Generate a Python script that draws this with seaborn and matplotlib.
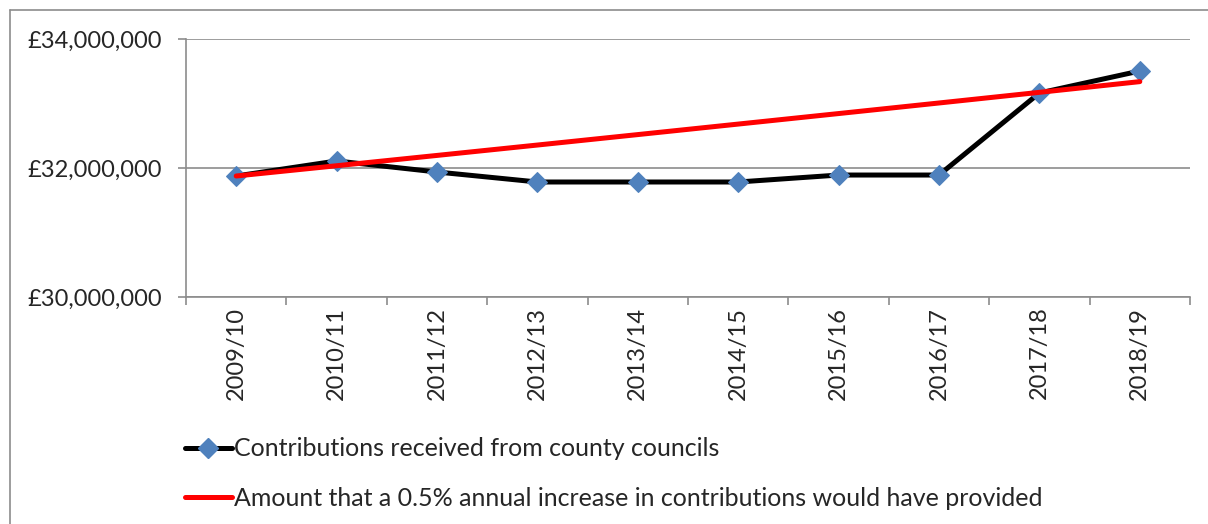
import numpy as np
import pandas as pd
import matplotlib
matplotlib.use("Agg")
import matplotlib.pyplot as plt
import matplotlib.ticker as mticker
from matplotlib.lines import Line2D
import seaborn as sns

# ============================================================
# DATA
# ============================================================

years = ["2009/10", "2010/11", "2011/12", "2012/13", "2013/14",
         "2014/15", "2015/16", "2016/17", "2017/18", "2018/19"]

received = [31876000, 32109000, 31938000, 31783000, 31783000,
            31783000, 31891000, 31891000, 33163000, 33504000]

half_pct = [31876000, 32035000, 32195000, 32356000, 32518000,
            32681000, 32844000, 33008000, 33173000, 33339000]

label_received = "Contributions received from county councils"
label_half = "Amount that a 0.5% annual increase in contributions would have provided"

# ============================================================
# STYLE
# ============================================================

sns.set_style("white")
plt.rcParams["font.family"] = ["Lato", "DejaVu Sans"]

GRID = "#8c8c8c"
BLUE = "#4f81bd"
FS = 17

df = pd.DataFrame({"year": years, "received": received, "half": half_pct})
df["pos"] = np.arange(len(df))

fig = plt.figure(figsize=(12.08, 5.24), dpi=100)
ax = fig.add_axes([186 / 1208, 1 - 297 / 524, (1190 - 186) / 1208, (297 - 39) / 524])

sns.lineplot(data=df, x="pos", y="received", ax=ax, color="black",
             linewidth=3.6, marker="D", markersize=10,
             markerfacecolor=BLUE, markeredgecolor=BLUE, zorder=3)
sns.lineplot(data=df, x="pos", y="half", ax=ax, color="#ff0000",
             linewidth=3.6, zorder=4)

ax.set_xlim(-0.5, len(years) - 0.5)
ax.set_ylim(30000000, 34000000)
ax.yaxis.set_major_locator(mticker.MultipleLocator(2000000))
ax.yaxis.set_major_formatter(mticker.FuncFormatter(lambda v, p: f"£{v:,.0f}"))

ax.set_xticks(df["pos"])
ax.set_xticklabels(years, rotation=90, fontsize=FS)
ax.xaxis.set_minor_locator(mticker.FixedLocator(np.arange(-0.5, len(years), 1)))
ax.tick_params(axis="x", which="major", length=0, pad=7)
ax.tick_params(axis="x", which="minor", length=6, width=1.2, color=GRID,
               direction="out", bottom=True)
ax.tick_params(axis="y", length=6, width=1.2, color=GRID, direction="out",
               labelsize=FS, pad=11, left=True)

ax.grid(axis="y", color=GRID, linewidth=1.2)
ax.set_axisbelow(True)
for side in ["top", "right"]:
    ax.spines[side].set_visible(False)
for side in ["left", "bottom"]:
    ax.spines[side].set_color(GRID)
    ax.spines[side].set_linewidth(1.2)

ax.set_xlabel("")
ax.set_ylabel("")

handles = [
    Line2D([], [], color="black", linewidth=3.6, marker="D", markersize=10,
           markerfacecolor=BLUE, markeredgecolor=BLUE),
    Line2D([], [], color="#ff0000", linewidth=3.6),
]
fig.legend(handles, [label_received, label_half], loc="upper left",
           bbox_to_anchor=(162 / 1208, 1 - 415 / 524), frameon=False,
           fontsize=18, handlelength=1.9, handletextpad=0.1, labelspacing=1.05)

# outer chart border (top and left only visible)
fig.add_artist(Line2D([10 / 1208, 1], [1 - 10 / 524, 1 - 10 / 524], color=GRID, linewidth=1.2))
fig.add_artist(Line2D([10 / 1208, 10 / 1208], [0, 1 - 10 / 524], color=GRID, linewidth=1.2))

fig.savefig("out.png", dpi=100)
